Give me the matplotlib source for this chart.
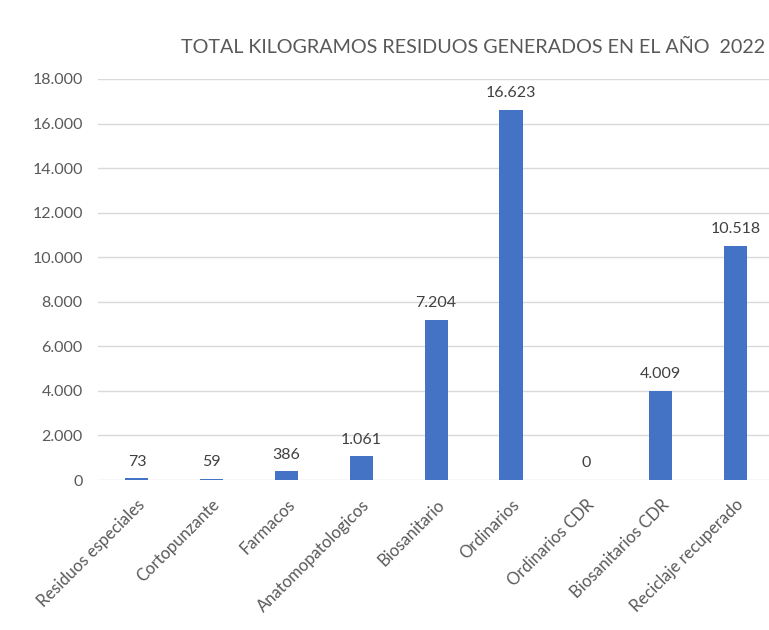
import matplotlib.pyplot as plt
from matplotlib.ticker import FuncFormatter

# Kilograms of waste per category, year 2022
categorias = ["Residuos especiales", "Cortopunzante", "Farmacos", "Anatomopatologicos",
              "Biosanitario", "Ordinarios", "Ordinarios CDR", "Biosanitarios CDR",
              "Reciclaje recuperado"]
kilos = [73, 59, 386, 1061, 7204, 16623, 0, 4009, 10518]
ticks_y = [0, 2000, 4000, 6000, 8000, 10000, 12000, 14000, 16000, 18000]

plt.rcParams['font.family'] = ['Lato', 'DejaVu Sans']


def miles(v, pos=None):
    # thousands separator with a dot, as in Spanish locale
    return f"{int(v):,}".replace(",", ".")


fig = plt.figure(figsize=(7.69, 6.30), dpi=100)
ax = fig.add_axes([98 / 769, 1 - 480 / 630, 1 - 98 / 769, (480 - 79) / 630])

x = range(len(categorias))
ax.bar(x, kilos, width=0.31, color="#4472C4", zorder=3)

for i, v in zip(x, kilos):
    ax.annotate(miles(v), (i, v), xytext=(0, 7), textcoords="offset points",
                ha="center", va="bottom", fontsize=11.5, color="#404040")

ax.set_ylim(0, 18000)
ax.set_xlim(-0.52, 8.45)
ax.set_yticks(ticks_y)
ax.yaxis.set_major_formatter(FuncFormatter(miles))
ax.grid(axis="y", color="#d9d9d9", linewidth=1, zorder=0)
ax.set_xticks(list(x))
ax.set_xticklabels(categorias, rotation=45, ha="right", rotation_mode="anchor",
                   fontsize=12, color="#595959")
ax.tick_params(axis="both", length=0, labelcolor="#595959")
ax.tick_params(axis="y", pad=11, labelsize=11.5)
ax.tick_params(axis="x", pad=12)
for s in ax.spines.values():
    s.set_visible(False)

fig.text(0.995, 1 - 47 / 630, "TOTAL KILOGRAMOS RESIDUOS GENERADOS EN EL AÑO  2022",
         ha="right", va="center", fontsize=14.2, color="#595959")

fig.savefig("out.png", dpi=100)
